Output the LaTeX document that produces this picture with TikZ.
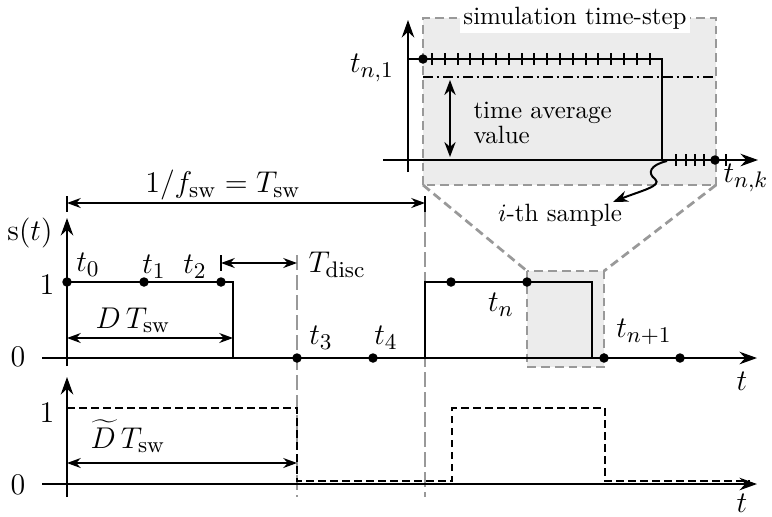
\documentclass[tikz,border=0pt]{standalone}
\usetikzlibrary{arrows.meta}
\begin{document}
\begin{tikzpicture}[x=0.4pt,y=-0.4pt,
  axis/.style={line width=0.85pt,-{Stealth[length=7pt,width=5pt]}},
  sig/.style={line width=0.85pt},
  dimarr/.style={line width=0.55pt,{Stealth[length=5.5pt,width=4pt]}-{Stealth[length=5.5pt,width=4pt]}},
  tick/.style={line width=0.55pt},
  gdash/.style={gray!80,line width=0.5pt,dash pattern=on 6pt off 2pt},
  boxdash/.style={gray!80,line width=1.1pt,dash pattern=on 3.5pt off 2pt},
  sigdash/.style={line width=0.85pt,dash pattern=on 3pt off 1.8pt},
  dot/.style={circle,fill=black,inner sep=0pt,minimum size=3.8pt},
  lbl/.style={inner sep=0pt,font=\fontsize{12.5}{15}\selectfont}
]
\useasboundingbox (0,0) rectangle (772,516);

% ---------- coordinates ----------
\coordinate (A1b) at (67,366);  \coordinate (A1t) at (67,218);
\coordinate (X1l) at (42,358);  \coordinate (X1r) at (757,358);
\coordinate (A2b) at (67,497);  \coordinate (A2t) at (67,377);
\coordinate (X2l) at (42,484);  \coordinate (X2r) at (757,484);

% inset box and zoom lines
\coordinate (BigSW) at (423,185); \coordinate (BigNE) at (716,18);
\coordinate (BigSE) at (716,185);
\coordinate (SmNW) at (527,271); \coordinate (SmNE) at (604,271);
\coordinate (SmSE) at (604,367);
\fill[gray!15] (BigSW) rectangle (BigNE);
\draw[boxdash] (BigSW) rectangle (BigNE);
\draw[boxdash] (BigSW) -- (SmNW);
\draw[boxdash] (BigSE) -- (SmNE);
\fill[gray!15] (SmNW) rectangle (SmSE);
\draw[boxdash] (SmNW) rectangle (SmSE);
\node[fill=white,inner sep=1.5pt] (title) at (575,18) {simulation time-step};

% ---------- gray dashed verticals ----------
\coordinate (G1t) at (297,255); \coordinate (G1b) at (297,497);
\coordinate (G2t) at (425,212); \coordinate (G2b) at (425,497);
\draw[gdash] (G1t) -- (G1b);
\draw[gdash] (G2t) -- (G2b);

% ---------- top plot ----------
\draw[axis] (A1b) -- (A1t);
\draw[axis] (X1l) -- (X1r);
\node[lbl] (st) at (30,233) {$\mathrm{s}(t)$};
\node[lbl] (one1) at (47,285) {$1$};
\node[lbl] (zero1) at (18,357) {$0$};
\node[lbl] (tax1) at (742,381) {$t$};

\coordinate (p1a) at (67,282); \coordinate (p1b) at (233,282); \coordinate (p1c) at (233,358);
\draw[sig] (p1a) -- (p1b) -- (p1c);
\coordinate (p2a) at (425,358); \coordinate (p2b) at (425,282);
\coordinate (p2c) at (592,282); \coordinate (p2d) at (592,358);
\draw[sig] (p2a) -- (p2b) -- (p2c) -- (p2d);

\node[dot] (t0) at (67,282) {};
\node[dot] (t1) at (144,282) {};
\node[dot] (t2) at (221,282) {};
\node[dot] (t3) at (297,358) {};
\node[dot] (t4) at (373,358) {};
\node[dot] (ta) at (451,282) {};
\node[dot] (tn) at (527,282) {};
\node[dot] (tn1) at (604,358) {};
\node[dot] (tb) at (680,358) {};

\node[lbl] (lt0) at (88,265) {$t_0$};
\node[lbl] (lt1) at (154,267) {$t_1$};
\node[lbl] (lt2) at (195,267) {$t_2$};
\node[lbl] (lt3) at (321,338) {$t_3$};
\node[lbl] (lt4) at (386,338) {$t_4$};
\node[lbl] (ltn) at (501,305) {$t_n$};
\node[lbl] (ltn1) at (644,332) {$t_{n+1}$};

% period bracket
\coordinate (Pl) at (67,203); \coordinate (Pr) at (425,203);
\draw[tick] (67,196) -- (67,212);
\draw[tick] (425,196) -- (425,212);
\draw[dimarr] (Pl) -- (Pr);
\node[lbl] (lper) at (223,185) {$1/f_{\mathrm{sw}} = T_{\mathrm{sw}}$};

% T_disc
\coordinate (Dl) at (221,263); \coordinate (Dr) at (297,263);
\draw[tick] (221,255) -- (221,271);
\draw[dimarr] (Dl) -- (Dr);
\node[lbl,anchor=west] (ltd) at (308,265) {$T_{\mathrm{disc}}$};

% D T_sw
\coordinate (Ddl) at (67,338); \coordinate (Ddr) at (233,338);
\draw[dimarr] (Ddl) -- (Ddr);
\node[lbl] (ldt) at (133,320) {$D\,T_{\mathrm{sw}}$};

% ---------- bottom plot ----------
\draw[axis] (A2b) -- (A2t);
\draw[axis] (X2l) -- (X2r);
\node[lbl] (one2) at (47,413) {$1$};
\node[lbl] (zero2) at (18,485) {$0$};
\node[lbl] (tax2) at (742,503) {$t$};
\draw[sigdash] (67,408) -- (297,408) -- (297,481) -- (452,481) -- (452,408)
  -- (605,408) -- (605,481) -- (750,481);
\coordinate (Etl) at (67,463); \coordinate (Etr) at (297,463);
\draw[dimarr] (Etl) -- (Etr);
\node[lbl] (ldt2) at (128,436) {$\widetilde{D}\,T_{\mathrm{sw}}$};

% ---------- inset ----------
\coordinate (Ib) at (408,172); \coordinate (It) at (408,20);
\coordinate (Il) at (383,160); \coordinate (Ir) at (758,160);
\draw[axis] (Ib) -- (It);
\draw[axis] (Il) -- (Ir);
\coordinate (q1) at (408,59); \coordinate (q2) at (662,59); \coordinate (q3) at (662,160);
\draw[sig] (q1) -- (q2) -- (q3);
\foreach \k in {0,...,17} {
  \draw[line width=0.75pt] ({432+12.8*\k},53) -- ({432+12.8*\k},65);
}
\foreach \xx in {676,686,695,704,726} {
  \draw[line width=0.75pt] (\xx,154) -- (\xx,166);
}
\node[dot] (tn1dot) at (423,59) {};
\node[dot] (tnkdot) at (715,160) {};
\node[lbl] (ltn1a) at (372,68) {$t_{n,1}$};
\node[lbl] (ltnk) at (746,178) {$t_{n,k}$};

\coordinate (avl) at (423,77); \coordinate (avr) at (716,77);
\draw[line width=0.7pt,dash pattern=on 4pt off 1.5pt on 1pt off 1.5pt] (avl) -- (avr);
\coordinate (aa) at (450,80); \coordinate (ab) at (450,157);
\draw[line width=0.8pt,{Stealth[length=6pt,width=4.5pt]}-{Stealth[length=6pt,width=4.5pt]}] (aa) -- (ab);
\node[inner sep=0pt,anchor=base west] (lav1) at (473,118) {time average};
\node[inner sep=0pt,anchor=base west] (lav2) at (473,143) {value};

\coordinate (sq0) at (667,161); \coordinate (sq1) at (613,202);
\draw[line width=0.8pt,-{Stealth[length=6pt,width=4.5pt]}] (sq0)
  .. controls (650,165) and (647,173) .. (655,179)
  .. controls (663,186) and (640,191) .. (sq1);
\node[inner sep=0pt] (lsample) at (560,215) {$i$-th sample};
\end{tikzpicture}
\end{document}
